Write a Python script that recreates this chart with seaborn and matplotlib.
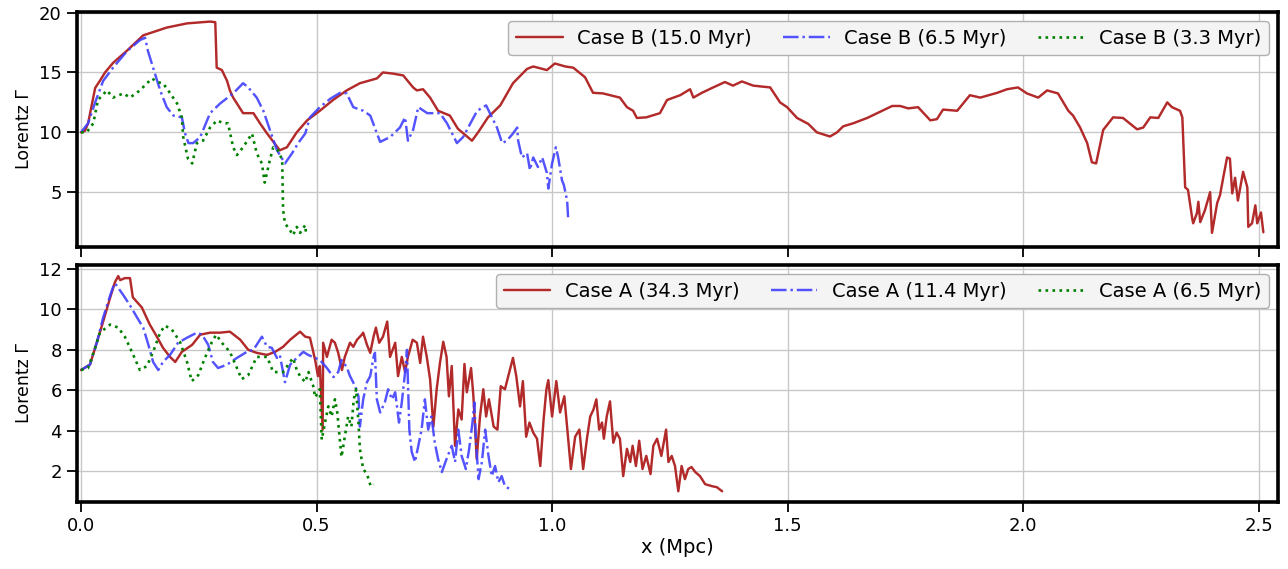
import matplotlib
matplotlib.use("Agg")
import matplotlib.pyplot as plt
import seaborn as sns

# ---------------- data ----------------
case_b_15 = [(0, 10), (0.008, 10.1), (0.015, 10.75), (0.03, 13.7), (0.04, 14.3), (0.051, 15.0), (0.068, 15.8),
             (0.097, 16.8), (0.132, 18.1), (0.182, 18.75), (0.225, 19.1), (0.274, 19.25), (0.285, 19.2),
             (0.288, 15.4), (0.299, 15.2), (0.31, 14.3), (0.316, 13.5), (0.323, 12.9), (0.344, 11.6),
             (0.366, 11.6), (0.38, 10.75), (0.395, 9.9), (0.422, 8.5), (0.437, 8.75), (0.458, 10.0),
             (0.48, 11.0), (0.507, 11.8), (0.535, 12.7), (0.564, 13.5), (0.592, 14.1), (0.628, 14.5),
             (0.641, 15.0), (0.663, 14.9), (0.684, 14.75), (0.705, 13.75), (0.713, 13.5), (0.726, 13.6),
             (0.741, 12.9), (0.758, 11.8), (0.783, 11.4), (0.8, 10.3), (0.83, 9.3), (0.843, 10.0),
             (0.864, 11.25), (0.89, 12.25), (0.917, 14.1), (0.947, 15.3), (0.96, 15.5), (0.989, 15.2),
             (1.006, 15.75), (1.028, 15.5), (1.045, 15.4), (1.07, 14.6), (1.087, 13.3), (1.108, 13.25),
             (1.144, 12.9), (1.159, 12.1), (1.172, 11.8), (1.18, 11.2), (1.2, 11.25), (1.229, 11.6),
             (1.244, 12.7), (1.272, 13.1), (1.293, 13.6), (1.3, 12.9), (1.318, 13.3), (1.342, 13.75),
             (1.367, 14.2), (1.384, 13.9), (1.403, 14.25), (1.427, 13.9), (1.463, 13.75), (1.484, 12.5),
             (1.499, 12.1), (1.52, 11.2), (1.544, 10.7), (1.562, 10.0), (1.59, 9.65), (1.605, 10.0),
             (1.618, 10.5), (1.639, 10.75), (1.669, 11.2), (1.69, 11.6), (1.722, 12.2), (1.739, 12.2),
             (1.756, 12.0), (1.777, 12.1), (1.803, 11.0), (1.817, 11.1), (1.83, 11.9), (1.86, 11.8),
             (1.887, 13.1), (1.909, 12.9), (1.945, 13.3), (1.966, 13.6), (1.989, 13.75), (2.008, 13.25),
             (2.032, 12.9), (2.051, 13.5), (2.074, 13.25), (2.096, 11.8), (2.106, 11.4), (2.121, 10.4),
             (2.136, 9.1), (2.146, 7.5), (2.155, 7.4), (2.17, 10.2), (2.191, 11.25), (2.212, 11.2),
             (2.242, 10.25), (2.255, 10.4), (2.27, 11.25), (2.287, 11.2), (2.306, 12.5), (2.316, 12.1),
             (2.333, 11.8), (2.338, 11.25), (2.344, 5.4), (2.35, 5.2), (2.359, 2.8), (2.361, 2.4),
             (2.369, 3.25), (2.372, 4.2), (2.376, 2.5), (2.386, 3.5), (2.397, 5.0), (2.401, 1.6),
             (2.412, 4.1), (2.418, 4.75), (2.425, 6.25), (2.433, 7.9), (2.439, 7.8), (2.444, 4.9),
             (2.45, 6.2), (2.456, 4.3), (2.467, 6.7), (2.476, 5.4), (2.478, 2.1), (2.486, 2.4),
             (2.493, 3.9), (2.497, 2.4), (2.505, 3.3), (2.51, 1.65)]

case_b_6p5 = [(0, 10), (0.015, 10.75), (0.03, 12.5), (0.047, 14.3), (0.068, 15.4), (0.098, 16.8), (0.125, 17.7),
              (0.136, 17.9), (0.142, 16.8), (0.153, 15.4), (0.168, 13.5), (0.182, 12.1), (0.196, 11.4),
              (0.214, 11.25), (0.221, 9.9), (0.228, 9.1), (0.238, 9.1), (0.253, 9.6), (0.274, 11.6),
              (0.295, 12.4), (0.323, 13.25), (0.344, 14.1), (0.355, 13.75), (0.373, 12.9), (0.387, 11.8),
              (0.401, 10.2), (0.416, 8.5), (0.433, 7.4), (0.448, 8.25), (0.461, 9.1), (0.476, 9.9),
              (0.486, 11.25), (0.507, 12.1), (0.529, 12.8), (0.55, 13.3), (0.564, 13.25), (0.578, 12.1),
              (0.599, 11.8), (0.614, 11.4), (0.635, 9.2), (0.656, 9.6), (0.677, 10.4), (0.688, 11.25),
              (0.694, 9.3), (0.705, 10.2), (0.716, 12.1), (0.735, 11.6), (0.762, 11.6), (0.777, 10.75),
              (0.798, 9.1), (0.811, 9.6), (0.841, 11.8), (0.86, 12.25), (0.868, 11.6), (0.883, 10.4),
              (0.894, 9.1), (0.904, 9.3), (0.917, 9.9), (0.926, 10.4), (0.928, 9.3), (0.936, 7.9),
              (0.947, 8.25), (0.953, 6.85), (0.96, 7.9), (0.97, 7.1), (0.979, 7.9), (0.989, 6.6),
              (0.992, 5.3), (1.0, 7.4), (1.008, 8.75), (1.013, 7.9), (1.021, 6.0), (1.025, 5.6),
              (1.032, 4.3), (1.034, 2.9), (1.036, 2.7)]

case_b_3p3 = [(0, 10), (0.012, 10), (0.026, 10.75), (0.036, 12.7), (0.055, 13.5), (0.068, 12.9), (0.09, 13.25),
              (0.104, 12.9), (0.125, 13.5), (0.14, 14.1), (0.151, 14.5), (0.161, 14.2), (0.174, 14.1),
              (0.185, 13.5), (0.204, 12.4), (0.214, 11.25), (0.217, 9.6), (0.227, 7.8), (0.236, 7.4),
              (0.246, 9.1), (0.259, 9.3), (0.274, 10.4), (0.289, 11.0), (0.302, 10.75), (0.312, 10.75),
              (0.323, 8.75), (0.331, 8.1), (0.344, 8.75), (0.363, 9.9), (0.373, 8.25), (0.384, 7.4),
              (0.39, 5.8), (0.401, 7.7), (0.408, 8.75), (0.418, 8.5), (0.427, 7.7), (0.429, 3.5),
              (0.433, 2.4), (0.444, 1.8), (0.45, 1.4), (0.458, 2.1), (0.465, 1.6), (0.476, 2.25),
              (0.478, 1.4)]

case_a_34p3 = [(0, 7.0), (0.019, 7.27), (0.034, 8.4), (0.047, 9.4), (0.062, 10.6), (0.072, 11.35), (0.079, 11.65),
               (0.083, 11.45), (0.093, 11.55), (0.104, 11.55), (0.11, 10.6), (0.129, 10.1), (0.146, 9.25),
               (0.161, 8.65), (0.174, 8.1), (0.189, 7.65), (0.2, 7.4), (0.214, 7.9), (0.236, 8.25),
               (0.253, 8.75), (0.274, 8.85), (0.295, 8.85), (0.316, 8.9), (0.338, 8.5), (0.355, 8.0),
               (0.373, 7.85), (0.395, 7.75), (0.412, 7.9), (0.429, 8.15), (0.444, 8.5), (0.465, 8.9),
               (0.476, 8.65), (0.486, 8.6), (0.497, 7.5), (0.503, 6.7), (0.507, 7.2), (0.513, 4.05),
               (0.514, 8.35), (0.522, 7.65), (0.532, 8.5), (0.539, 8.35), (0.546, 7.85), (0.554, 7.0),
               (0.56, 7.65), (0.571, 8.35), (0.578, 8.15), (0.586, 8.5), (0.596, 8.75), (0.599, 8.85),
               (0.607, 8.25), (0.614, 7.85), (0.621, 8.65), (0.626, 9.1), (0.633, 8.35), (0.641, 8.65),
               (0.65, 9.4), (0.656, 7.65), (0.667, 8.35), (0.673, 6.7), (0.681, 7.65), (0.688, 6.9),
               (0.694, 7.65), (0.704, 8.5), (0.713, 8.35), (0.72, 7.35), (0.726, 8.65), (0.734, 7.65),
               (0.741, 6.55), (0.748, 4.2), (0.755, 6.05), (0.762, 7.35), (0.769, 8.4), (0.776, 7.65),
               (0.781, 5.7), (0.787, 7.2), (0.794, 3.25), (0.801, 5.05), (0.808, 4.55), (0.814, 7.3),
               (0.819, 5.9), (0.828, 7.1), (0.833, 5.7), (0.84, 2.6), (0.847, 4.7), (0.854, 6.05),
               (0.86, 4.7), (0.866, 5.55), (0.876, 4.2), (0.884, 4.05), (0.891, 6.2), (0.9, 6.05),
               (0.907, 6.7), (0.917, 7.6), (0.924, 6.7), (0.932, 5.2), (0.938, 6.45), (0.945, 3.7),
               (0.952, 4.4), (0.96, 3.9), (0.968, 3.6), (0.975, 2.25), (0.982, 4.55), (0.988, 6.05),
               (0.992, 6.5), (1.0, 4.7), (1.009, 6.45), (1.017, 4.9), (1.026, 5.7), (1.031, 4.4),
               (1.04, 2.1), (1.049, 3.7), (1.058, 4.05), (1.066, 2.1), (1.074, 3.6), (1.081, 4.7),
               (1.088, 5.05), (1.094, 5.55), (1.1, 4.05), (1.106, 4.4), (1.11, 3.6), (1.116, 4.7),
               (1.123, 5.45), (1.13, 3.4), (1.137, 3.9), (1.144, 3.6), (1.151, 1.75), (1.159, 3.1),
               (1.166, 2.45), (1.171, 3.25), (1.178, 2.25), (1.185, 3.5), (1.192, 2.1), (1.2, 2.75),
               (1.209, 1.85), (1.215, 3.25), (1.223, 3.6), (1.232, 2.75), (1.242, 4.05), (1.247, 2.45),
               (1.254, 2.75), (1.261, 2.25), (1.268, 1.0), (1.275, 2.25), (1.282, 1.6), (1.289, 2.1),
               (1.296, 2.2), (1.304, 1.95), (1.314, 1.75), (1.325, 1.35), (1.34, 1.25), (1.35, 1.2),
               (1.361, 1.0)]

case_a_11p4 = [(0, 7.0), (0.019, 7.27), (0.034, 8.4), (0.047, 9.6), (0.062, 10.7), (0.068, 11.1), (0.072, 11.3),
               (0.09, 10.7), (0.104, 10.2), (0.119, 9.6), (0.132, 9.1), (0.143, 8.25), (0.153, 7.4),
               (0.164, 7.0), (0.174, 7.4), (0.189, 7.75), (0.206, 8.35), (0.225, 8.6), (0.246, 8.85),
               (0.257, 8.75), (0.27, 8.25), (0.28, 7.4), (0.291, 7.1), (0.31, 7.27), (0.331, 7.6),
               (0.352, 7.9), (0.366, 8.0), (0.384, 8.65), (0.395, 8.15), (0.405, 8.1), (0.416, 7.6),
               (0.422, 7.75), (0.433, 6.4), (0.444, 7.27), (0.458, 7.6), (0.472, 7.9), (0.482, 7.75),
               (0.497, 7.6), (0.507, 7.5), (0.522, 7.1), (0.536, 6.65), (0.546, 6.9), (0.553, 7.5),
               (0.564, 7.15), (0.571, 6.7), (0.582, 6.2), (0.589, 5.7), (0.592, 4.2), (0.599, 5.55),
               (0.607, 6.4), (0.614, 6.7), (0.621, 7.65), (0.624, 7.85), (0.628, 5.55), (0.635, 4.9),
               (0.645, 5.4), (0.652, 6.05), (0.66, 5.55), (0.667, 5.9), (0.675, 4.4), (0.681, 5.4),
               (0.688, 6.9), (0.692, 8.0), (0.697, 4.05), (0.702, 2.95), (0.709, 2.45), (0.716, 3.25),
               (0.723, 4.05), (0.73, 5.55), (0.737, 4.05), (0.744, 4.7), (0.751, 3.4), (0.758, 2.6),
               (0.766, 1.95), (0.776, 2.6), (0.787, 3.25), (0.794, 2.45), (0.801, 4.05), (0.808, 2.75),
               (0.817, 2.1), (0.824, 3.1), (0.831, 4.4), (0.835, 5.4), (0.839, 3.25), (0.844, 1.6),
               (0.851, 2.45), (0.858, 4.05), (0.865, 2.75), (0.872, 1.75), (0.879, 2.25), (0.886, 1.45),
               (0.893, 1.75), (0.9, 1.25), (0.911, 1.1)]

case_a_6p5 = [(0, 7.0), (0.015, 7.1), (0.03, 8.1), (0.04, 8.85), (0.062, 9.25), (0.079, 9.1), (0.093, 8.65),
              (0.108, 7.9), (0.125, 7.0), (0.14, 7.2), (0.153, 7.9), (0.168, 8.85), (0.178, 9.2),
              (0.193, 9.0), (0.21, 8.4), (0.225, 7.4), (0.235, 6.45), (0.249, 6.75), (0.263, 7.6),
              (0.278, 8.4), (0.287, 8.75), (0.299, 8.35), (0.316, 7.9), (0.331, 7.1), (0.341, 6.55),
              (0.355, 6.75), (0.373, 7.65), (0.395, 7.65), (0.408, 6.9), (0.429, 6.9), (0.444, 7.4),
              (0.45, 7.6), (0.458, 7.0), (0.465, 6.7), (0.476, 6.4), (0.483, 6.9), (0.493, 6.2),
              (0.497, 5.65), (0.507, 6.05), (0.511, 3.55), (0.518, 4.4), (0.525, 5.2), (0.532, 4.7),
              (0.539, 5.55), (0.544, 4.9), (0.548, 3.9), (0.553, 2.7), (0.56, 3.7), (0.567, 4.7),
              (0.574, 4.2), (0.579, 5.55), (0.584, 6.05), (0.589, 4.4), (0.592, 3.1), (0.599, 2.1),
              (0.607, 1.85), (0.615, 1.25), (0.621, 1.35)]

top_labels = ["Case B (15.0 Myr)", "Case B (6.5 Myr)", "Case B (3.3 Myr)"]
bottom_labels = ["Case A (34.3 Myr)", "Case A (11.4 Myr)", "Case A (6.5 Myr)"]
x_ticks = [0.0, 0.5, 1.0, 1.5, 2.0, 2.5]
top_yticks = [5, 10, 15, 20]
bottom_yticks = [2, 4, 6, 8, 10, 12]

# ---------------- styling ----------------
sns.set_theme(style="whitegrid")
plt.rcParams["font.family"] = ["DejaVu Sans"]
plt.rcParams["text.color"] = "black"
plt.rcParams["axes.labelcolor"] = "black"
plt.rcParams["xtick.color"] = "black"
plt.rcParams["ytick.color"] = "black"

RED = "#b22a2a"
BLUE = "#4040ff"
GREEN = "#008000"
styles = [dict(color=RED, linestyle="-", lw=1.75),
          dict(color=BLUE, linestyle="-.", lw=1.75, alpha=0.9),
          dict(color=GREEN, linestyle=":", lw=1.9)]

fig = plt.figure(figsize=(12.88, 5.69), dpi=100)
ax1 = fig.add_axes([0.0598, 0.5659, 0.9324, 0.4130])
ax2 = fig.add_axes([0.0598, 0.1178, 0.9324, 0.4165])


def draw(ax, series, labels):
    for pts, lab, st in zip(series, labels, styles):
        xs = [p[0] for p in pts]
        ys = [p[1] for p in pts]
        sns.lineplot(x=xs, y=ys, ax=ax, sort=False, estimator=None, label=lab, **st)


draw(ax1, [case_b_15, case_b_6p5, case_b_3p3], top_labels)
draw(ax2, [case_a_34p3, case_a_11p4, case_a_6p5], bottom_labels)

for ax in (ax1, ax2):
    ax.set_xlim(-0.0085, 2.541)
    ax.set_xticks(x_ticks)
    ax.grid(True, color="#c8c8c8", lw=1.0)
    for s in ax.spines.values():
        s.set_linewidth(2.6)
        s.set_color("black")
    ax.tick_params(axis="both", which="major", direction="out", length=7, width=1.3,
                   labelsize=13, bottom=True, left=True, pad=4)
    ax.set_ylabel("Lorentz \u0393", fontsize=12.5)
    leg = ax.legend(loc="upper right", ncol=3, fontsize=14, frameon=True, fancybox=True,
                    facecolor="#f4f4f4", edgecolor="#b0b0b0", framealpha=1.0,
                    borderaxespad=0.45, handlelength=2.4, handletextpad=0.75,
                    columnspacing=1.6, borderpad=0.4)
    leg.get_frame().set_linewidth(1.0)

ax1.set_ylim(0.42, 20.05)
ax1.set_yticks(top_yticks)
ax1.tick_params(labelbottom=False)
ax1.set_xlabel("")
ax2.set_ylim(0.47, 12.2)
ax2.set_yticks(bottom_yticks)
ax2.set_xticklabels([f"{v:.1f}" for v in x_ticks])
ax2.set_xlabel("x (Mpc)", fontsize=14, labelpad=2)

fig.savefig("out.png", dpi=100)
